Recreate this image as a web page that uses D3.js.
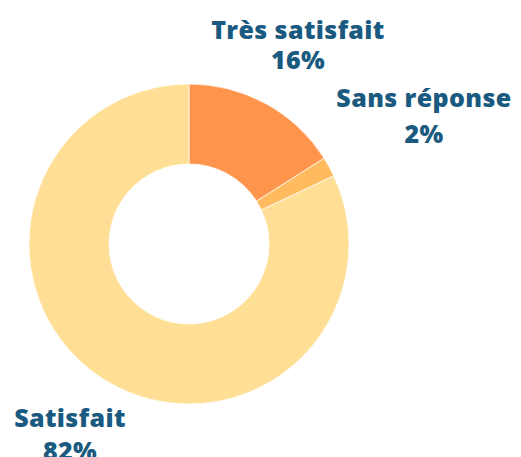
<!DOCTYPE html>
<html>
<head>
<meta charset="utf-8">
<script src="https://cdn.jsdelivr.net/npm/d3@7"></script>
<style>
  body { margin: 0; background: #fff; }
  .lbl { font-family: "Open Sans", sans-serif; font-weight: 800; fill: #1a5a80; text-anchor: middle; letter-spacing: 0.4px; }
</style>
</head>
<body>
<script>
// Chart data
var categories = ["Très satisfait", "Sans réponse", "Satisfait"];
var values = [16, 2, 82];
var colors = ["#ff954c", "#ffbb5e", "#ffdf95"];

var svgWidth = 521;
var svgHeight = 457;

var svg = d3.select("body")
  .append("svg")
  .attr("width", svgWidth)
  .attr("height", svgHeight);

var cx = 189, cy = 244;
var outerR = 160, innerR = 80;

var pie = d3.pie().sort(null).value(d => d);
var arc = d3.arc().innerRadius(innerR).outerRadius(outerR);

var chartGroup = svg.append("g")
  .attr("transform", `translate(${cx}, ${cy})`);

chartGroup.selectAll("path")
  .data(pie(values))
  .enter()
  .append("path")
  .attr("d", arc)
  .attr("fill", (d, i) => colors[i])
  .attr("stroke", "#fff")
  .attr("stroke-width", 0.7);

// label positions (placed as in the original): x, y, line gap
var labelPos = [[298, 39, 30], [424, 107, 36], [70, 427, 33]];

categories.forEach(function(c, i) {
  var p = labelPos[i];
  var t = svg.append("text")
    .attr("class", "lbl")
    .attr("x", p[0])
    .attr("y", p[1])
    .style("font-size", "25px");
  t.append("tspan").attr("x", p[0]).text(c);
  t.append("tspan").attr("x", p[0]).attr("dy", p[2]).text(values[i] + "%");
});
</script>
</body>
</html>
